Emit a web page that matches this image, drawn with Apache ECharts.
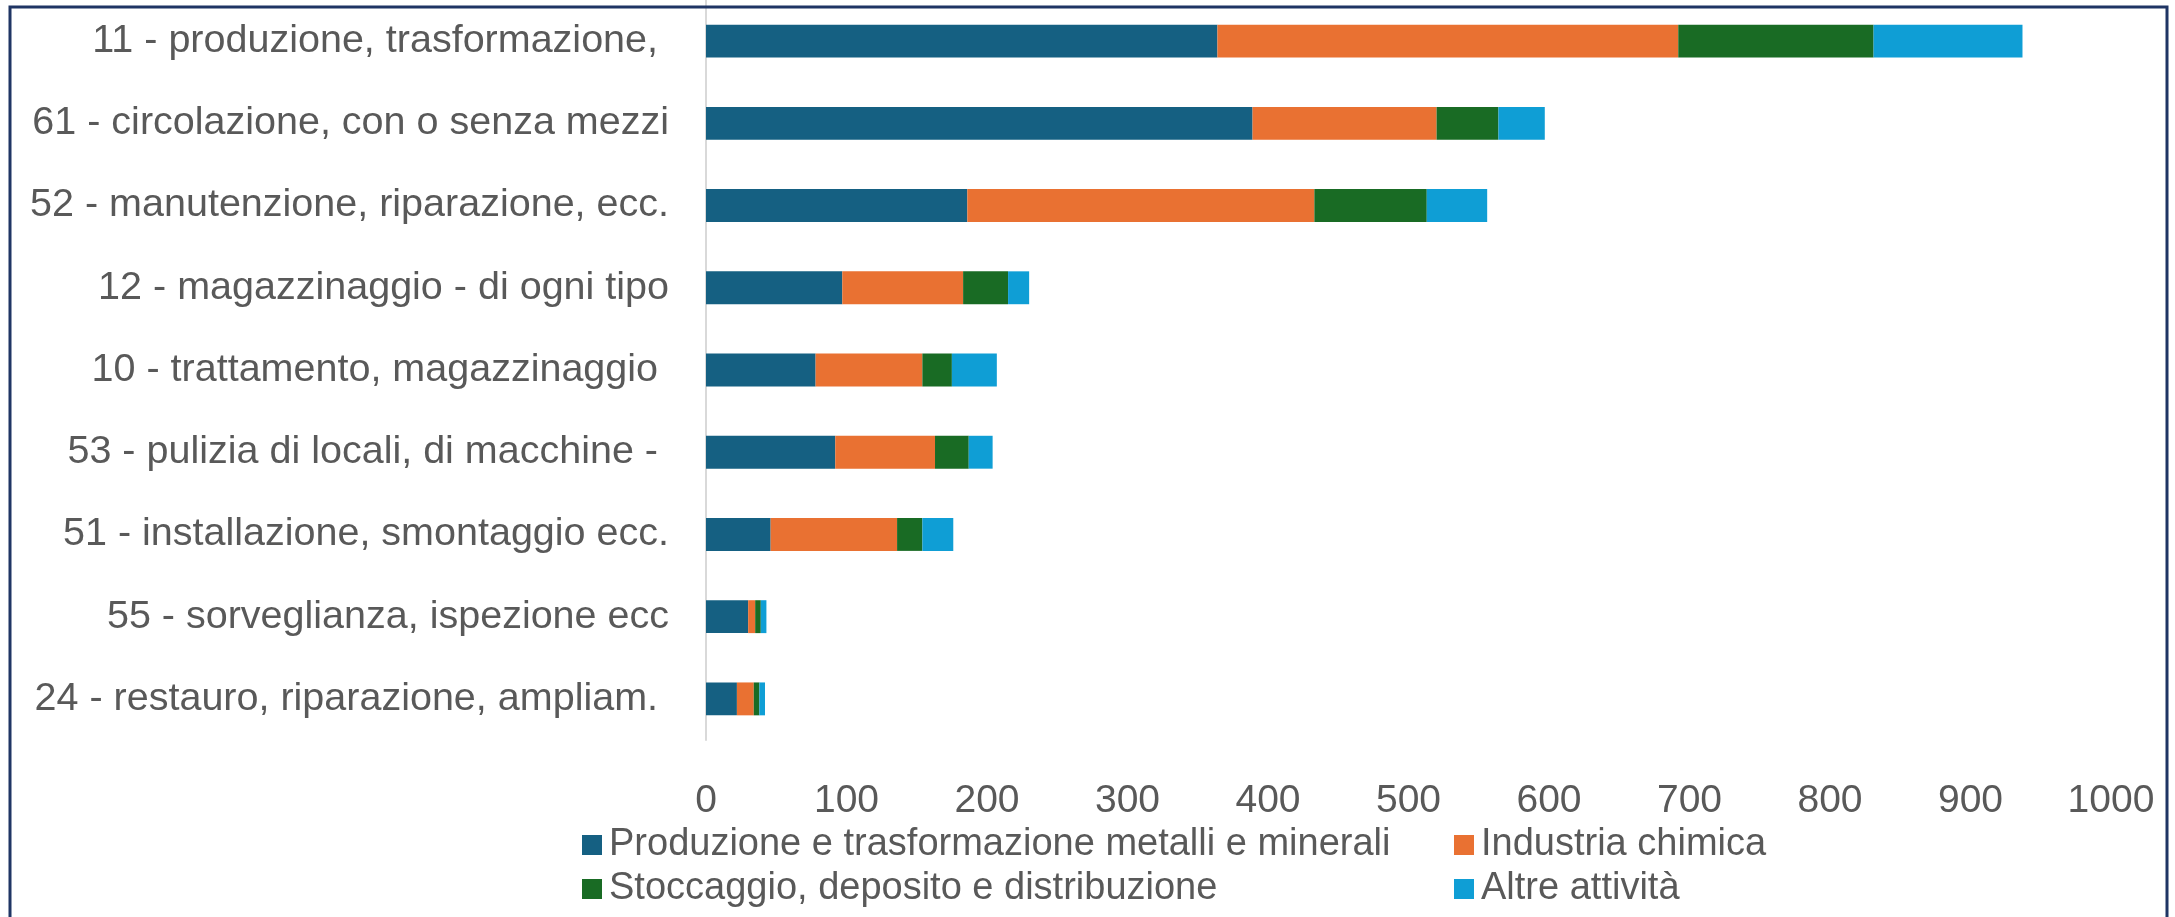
<!DOCTYPE html>
<html>
<head>
<meta charset="utf-8">
<script src="https://cdn.jsdelivr.net/npm/echarts@6/dist/echarts.min.js"></script>
<style>
html,body{margin:0;padding:0;background:#fff;}
#c{width:2175px;height:917px;}
</style>
</head>
<body>
<div id="c"></div>
<script>
const categories = [
  "11 - produzione, trasformazione, ",
  "61 - circolazione, con o senza mezzi",
  "52 - manutenzione, riparazione, ecc.",
  "12 - magazzinaggio - di ogni tipo",
  "10 - trattamento, magazzinaggio ",
  "53 - pulizia di locali, di macchine - ",
  "51 - installazione, smontaggio ecc.",
  "55 - sorveglianza, ispezione ecc",
  "24 - restauro, riparazione, ampliam. "
];
const seriesNames = [
  "Produzione e trasformazione metalli e minerali",
  "Industria chimica",
  "Stoccaggio, deposito e distribuzione",
  "Altre attività"
];
const produzione = [364, 389, 186, 97, 78, 92, 46, 30, 22];
const chimica    = [328, 131, 247, 86, 76, 71, 90, 5, 12];
const stoccaggio = [139, 44, 80, 32, 21, 24, 18, 4, 4];
const altre      = [106, 33, 43, 15, 32, 17, 22, 4, 4];
const xTicks = [0, 100, 200, 300, 400, 500, 600, 700, 800, 900, 1000];
const colors = ["#156082", "#E97132", "#196B24", "#0F9ED5"];

const FONT = "Liberation Sans";
const TXT = "#595959";
const seriesData = [produzione, chimica, stoccaggio, altre];

const chart = echarts.init(document.getElementById('c'), null, {renderer: 'canvas'});
const legendCommon = {
  orient: 'vertical',
  padding: 0,
  itemWidth: 20,
  itemHeight: 20,
  itemGap: 6,
  icon: 'rect',
  textStyle: {fontFamily: FONT, fontSize: 38, color: TXT, lineHeight: 38, padding: [0,0,0,2]},
  selectedMode: false
};
chart.setOption({
  animation: false,
  backgroundColor: '#ffffff',
  color: colors,
  graphic: [{
    type: 'rect',
    shape: {x: 10, y: 7, width: 2157, height: 1000},
    style: {fill: 'none', stroke: '#1F3564', lineWidth: 3},
    z: 100
  }],
  legend: [
    Object.assign({}, legendCommon, {left: 582, top: 826, data: [seriesNames[0], seriesNames[2]]}),
    Object.assign({}, legendCommon, {left: 1454, top: 826, data: [seriesNames[1], seriesNames[3]]})
  ],
  grid: {left: 706, right: 64, top: -4, bottom: 177, containLabel: false},
  xAxis: {
    type: 'value',
    min: xTicks[0],
    max: xTicks[xTicks.length - 1],
    interval: xTicks[1] - xTicks[0],
    axisLine: {show: false},
    axisTick: {show: false},
    splitLine: {show: false},
    axisLabel: {fontFamily: FONT, fontSize: 39, color: TXT, margin: 42, formatter: v => String(v)}
  },
  yAxis: {
    type: 'category',
    inverse: true,
    data: categories,
    axisLine: {show: true, lineStyle: {color: '#D9D9D9', width: 2}},
    axisTick: {show: false},
    axisLabel: {fontFamily: FONT, fontSize: 39.5, color: TXT, margin: 37}
  },
  series: seriesNames.map((n, i) => ({
    name: n,
    type: 'bar',
    stack: 'tot',
    barWidth: '40%',
    data: seriesData[i],
    itemStyle: {color: colors[i]}
  }))
});
</script>
</body>
</html>
